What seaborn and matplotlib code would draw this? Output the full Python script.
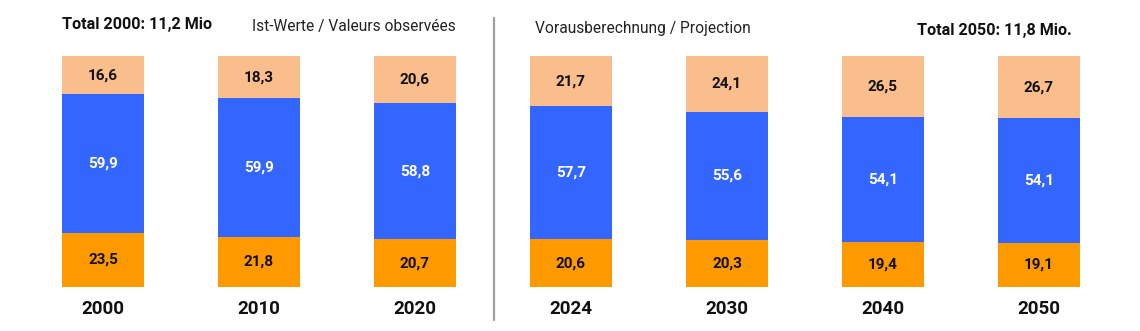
import matplotlib
matplotlib.use("Agg")
import matplotlib.pyplot as plt
import seaborn as sns
import pandas as pd
import numpy as np

years = ["2000", "2010", "2020", "2024", "2030", "2040", "2050"]
young = [23.5, 21.8, 20.7, 20.6, 20.3, 19.4, 19.1]      # bottom, orange
working = [59.9, 59.9, 58.8, 57.7, 55.6, 54.1, 54.1]    # middle, blue
old = [16.6, 18.3, 20.6, 21.7, 24.1, 26.5, 26.7]        # top, peach

header_left_total = "Total 2000: 11,2 Mio"
header_left = "Ist-Werte / Valeurs observées"
header_right = "Vorausberechnung / Projection"
header_right_total = "Total 2050: 11,8 Mio."

c_young = "#FF9900"
c_work = "#3366FF"
c_old = "#F9BE8C"

sns.set_theme(style="white")
plt.rcParams["font.family"] = ["Roboto", "DejaVu Sans"]

fig = plt.figure(figsize=(11.4, 3.31), dpi=100)
ax = fig.add_axes([0, 44/331, 1, 231/331])

df = pd.DataFrame({"year": years, "young": young, "working": working, "old": old})
df["b2"] = df["young"]
df["b3"] = df["young"] + df["working"]

w = 82/156
sns.barplot(data=df, x="year", y="young", order=years, color=c_young, width=w,
            saturation=1, ax=ax, linewidth=0)
sns.barplot(data=df, x="year", y="working", order=years, color=c_work, width=w,
            saturation=1, ax=ax, linewidth=0, bottom=df["b2"].values)
sns.barplot(data=df, x="year", y="old", order=years, color=c_old, width=w,
            saturation=1, ax=ax, linewidth=0, bottom=df["b3"].values)

ax.set_xlim(-103/156, (1140-103)/156)
ax.set_ylim(0, 100)
ax.axis("off")

def fmt(v):
    return f"{v:.1f}".replace(".", ",")

for i in range(len(years)):
    ax.text(i, young[i]/2, fmt(young[i]), ha="center", va="center",
            fontsize=11, fontweight="bold", color="#111111")
    ax.text(i, young[i] + working[i]/2, fmt(working[i]), ha="center", va="center",
            fontsize=11, fontweight="bold", color="white")
    ax.text(i, young[i] + working[i] + old[i]/2, fmt(old[i]), ha="center", va="center",
            fontsize=11, fontweight="bold", color="#111111")
    ax.text(i, -9.5, years[i], ha="center", va="center", fontsize=13.5,
            fontweight="bold", color="#111111")

fig.text(62/1140, 1 - 25/331, header_left_total, ha="left", va="center",
         fontsize=11.6, fontweight="bold", color="#111111")
fig.text(252/1140, 1 - 26/331, header_left, ha="left", va="center",
         fontsize=11.2, color="#222222")
fig.text(535/1140, 1 - 28/331, header_right, ha="left", va="center",
         fontsize=11.2, color="#222222")
fig.text(1072/1140, 1 - 30/331, header_right_total, ha="right", va="center",
         fontsize=11.6, fontweight="bold", color="#111111")

fig.add_artist(plt.Line2D([494/1140, 494/1140], [1 - 320/331, 1 - 18/331],
                          color="#9E9E9E", linewidth=1.6))

fig.savefig("out.png", dpi=100)
